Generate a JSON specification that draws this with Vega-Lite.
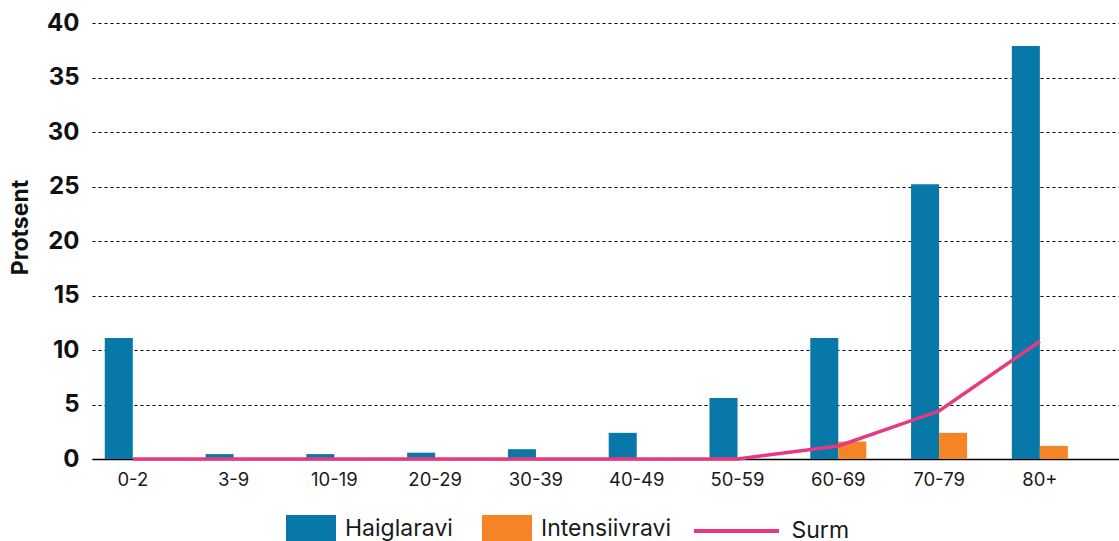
{
  "$schema": "https://vega.github.io/schema/vega-lite/v6.json",
  "autosize": {"type": "none"},
  "padding": {"left": 92, "top": 23, "right": 0, "bottom": 82},
  "width": 1027,
  "height": 436,
  "background": "white",
  "config": {
    "font": "Inter",
    "view": {"stroke": null},
    "legend": {"padding": 0, "labelFont": "Inter", "labelColor": "#1a1a1a", "labelFontSize": 23, "title": null}
  },
  "data": {
    "values": [
      {"age": "0-2", "series": "Haiglaravi", "value": 11.1},
      {"age": "3-9", "series": "Haiglaravi", "value": 0.45},
      {"age": "10-19", "series": "Haiglaravi", "value": 0.45},
      {"age": "20-29", "series": "Haiglaravi", "value": 0.58},
      {"age": "30-39", "series": "Haiglaravi", "value": 0.9},
      {"age": "40-49", "series": "Haiglaravi", "value": 2.4},
      {"age": "50-59", "series": "Haiglaravi", "value": 5.6},
      {"age": "60-69", "series": "Haiglaravi", "value": 11.1},
      {"age": "70-79", "series": "Haiglaravi", "value": 25.2},
      {"age": "80+", "series": "Haiglaravi", "value": 37.9},
      {"age": "0-2", "series": "Intensiivravi", "value": 0},
      {"age": "3-9", "series": "Intensiivravi", "value": 0},
      {"age": "10-19", "series": "Intensiivravi", "value": 0},
      {"age": "20-29", "series": "Intensiivravi", "value": 0},
      {"age": "30-39", "series": "Intensiivravi", "value": 0},
      {"age": "40-49", "series": "Intensiivravi", "value": 0},
      {"age": "50-59", "series": "Intensiivravi", "value": 0},
      {"age": "60-69", "series": "Intensiivravi", "value": 1.6},
      {"age": "70-79", "series": "Intensiivravi", "value": 2.4},
      {"age": "80+", "series": "Intensiivravi", "value": 1.2},
      {"age": "0-2", "series": "Surm", "value": 0},
      {"age": "3-9", "series": "Surm", "value": 0},
      {"age": "10-19", "series": "Surm", "value": 0},
      {"age": "20-29", "series": "Surm", "value": 0},
      {"age": "30-39", "series": "Surm", "value": 0},
      {"age": "40-49", "series": "Surm", "value": 0},
      {"age": "50-59", "series": "Surm", "value": 0},
      {"age": "60-69", "series": "Surm", "value": 1.2},
      {"age": "70-79", "series": "Surm", "value": 4.4},
      {"age": "80+", "series": "Surm", "value": 10.8}
    ]
  },
  "encoding": {
    "x": {
      "field": "age",
      "type": "nominal",
      "sort": null,
      "scale": {"paddingInner": 0.444, "paddingOuter": 0.317, "align": 0.2},
      "axis": {
        "title": null,
        "labelAngle": 0,
        "labelFont": "Inter",
        "labelFontSize": 18.5,
        "labelColor": "#1a1a1a",
        "labelPadding": 11,
        "ticks": false,
        "domain": true,
        "domainColor": "#000000",
        "domainWidth": 1.5,
        "grid": false
      }
    },
    "y": {
      "field": "value",
      "type": "quantitative",
      "scale": {"domain": [0, 40], "nice": false},
      "axis": {
        "title": "Protsent",
        "titleFont": "Inter",
        "titleFontSize": 23,
        "titleFontWeight": "bold",
        "titleColor": "#111111",
        "titlePadding": 14,
        "titleY": 204,
        "values": [0, 5, 10, 15, 20, 25, 30, 35, 40],
        "labelFont": "Inter",
        "labelFontSize": 24,
        "labelFontWeight": "bold",
        "labelColor": "#111111",
        "labelPadding": 13,
        "ticks": false,
        "domain": false,
        "grid": true,
        "gridColor": "#000000",
        "gridWidth": 1.2,
        "gridDash": [3, 3]
      }
    }
  },
  "layer": [
    {
      "transform": [{"filter": "datum.series !== 'Surm'"}],
      "mark": {"type": "bar"},
      "encoding": {
        "xOffset": {
          "field": "series",
          "type": "nominal",
          "scale": {"paddingInner": 0, "paddingOuter": 0}
        },
        "fill": {
          "field": "series",
          "type": "nominal",
          "scale": {"domain": ["Haiglaravi", "Intensiivravi"], "range": ["#0778a8", "#f58426"]},
          "legend": {
            "orient": "none",
            "direction": "horizontal",
            "legendX": 194,
            "legendY": 481,
            "symbolType": "M-1,-0.56H1V0.56H-1Z",
            "symbolSize": 2500,
            "symbolOpacity": 1,
            "symbolStrokeWidth": 0,
            "labelOffset": 9,
            "columnPadding": 29
          }
        }
      }
    },
    {
      "transform": [{"filter": "datum.series === 'Surm'"}],
      "mark": {"type": "line", "strokeWidth": 3.5, "interpolate": "linear"},
      "encoding": {
        "stroke": {
          "field": "series",
          "type": "nominal",
          "scale": {"domain": ["Surm"], "range": ["#e8387f"]},
          "legend": {
            "orient": "none",
            "legendX": 617.5,
            "legendY": 481,
            "symbolType": "M-1.7,0H1.7",
            "symbolSize": 2500,
            "symbolStrokeWidth": 4,
            "labelOffset": 28
          }
        }
      }
    }
  ]
}
